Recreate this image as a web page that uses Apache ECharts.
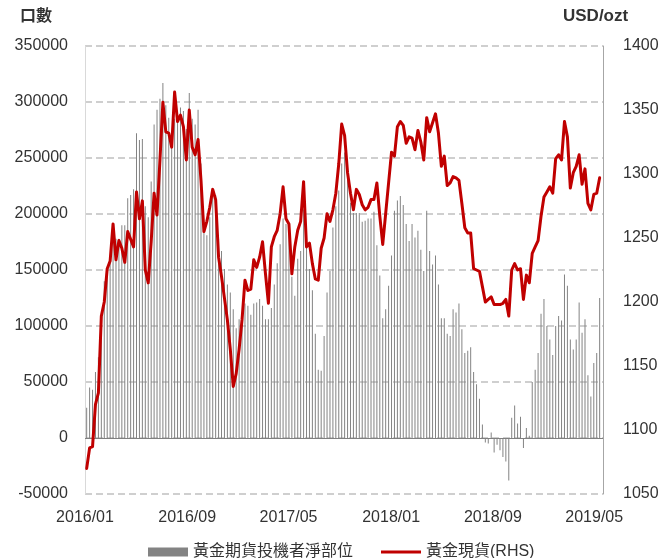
<!DOCTYPE html>
<html>
<head>
<meta charset="utf-8">
<title>黃金期貨投機者淨部位</title>
<script src="https://cdn.jsdelivr.net/npm/echarts@6/dist/echarts.min.js"></script>
<style>
  html, body { margin: 0; padding: 0; background: #fff; }
  #chart { width: 664px; height: 558px; }
</style>
</head>
<body>
<div id="chart"></div>
<script>
// 週資料 (每週二) 2016/01/05 ~ 2019/05/14，x 以 2016/01/01 起算的天數表示
const firstWeekDay = 4;

// 黃金期貨投機者淨部位 (口數)
const netPosition = [
  27000, 45000, 43000, 59000, 72000, 110000, 140000, 151000, 158000, 178000,
  178000, 178000, 190000, 190000, 214000, 217000, 222000, 272000, 266000, 267000,
  207000, 197000, 229000, 280000, 293000, 303000, 317000, 297000, 286000, 261000,
  285000, 289000, 295000, 292000, 276000,
  308000, 285000, 280000, 293000, 245000, 185000, 181000, 197000, 222000, 217000,
  178000, 167000, 151000, 137000, 130000, 115000, 98000, 106000, 110000, 120000,
  118000, 110000, 120000, 121000, 124000, 118000, 106000, 106000, 116000, 137000,
  156000, 173000, 196000, 191000, 185000, 144000,
  127000, 160000, 167000, 204000, 172000, 151000, 132000, 93000, 61000, 60000,
  91000, 130000, 149000, 188000, 207000, 221000, 245000, 255000, 231000, 210000,
  201000, 201000, 201000, 193000, 194000, 196000, 196000, 202000, 172000, 145000,
  107000, 115000, 136000, 163000,
  203000, 212000, 216000, 208000, 191000, 176000, 191000, 179000, 185000, 168000,
  149000, 203000, 167000, 155000, 163000, 137000, 107000, 107000, 93000, 91000,
  115000, 112000, 120000, 97000, 76000, 78000, 81000, 59000, 48000, 35000,
  12000, -4000, -5000, 5000, -13000,
  -6000, -11000, -17000, -21000, -38000, 18000, 29000, 13000, 19000, -9000,
  9000, 2000, 50000, 61000, 76000, 111000, 124000, 100000, 88000, 74000,
  100000, 109000, 105000, 146000, 136000, 88000, 79000, 88000, 121000, 94000,
  106000, 56000, 37000, 67000, 76000, 125000
];

// 黃金現貨 USD/ozt (RHS)
const goldSpot = [
  1070, 1086, 1087, 1120, 1129, 1189, 1200, 1226, 1232, 1261,
  1233, 1248, 1242, 1231, 1255, 1249, 1243, 1286, 1265, 1279,
  1225, 1215, 1247, 1285, 1268, 1311, 1356, 1333, 1332, 1321,
  1364, 1341, 1346, 1337, 1311,
  1350, 1321, 1315, 1327, 1295, 1255, 1263, 1274, 1288, 1280,
  1235, 1220, 1203, 1186, 1163, 1134, 1144, 1163, 1186, 1217,
  1209, 1210, 1233, 1227, 1235, 1247, 1222, 1199, 1243, 1251,
  1256, 1269, 1290, 1265, 1261, 1222,
  1243, 1256, 1263, 1294, 1243, 1246, 1230, 1218, 1217, 1242,
  1250, 1269, 1263, 1272, 1285, 1308, 1339, 1330, 1301, 1285,
  1272, 1288, 1284, 1276, 1272, 1274, 1280, 1280, 1293, 1267,
  1245, 1269, 1293, 1317,
  1314, 1337, 1341, 1338, 1324, 1329, 1328, 1319, 1334, 1325,
  1311, 1344, 1333, 1340, 1347, 1332, 1306, 1314, 1291, 1293,
  1298, 1297, 1295, 1277, 1258, 1254, 1254, 1226, 1225, 1224,
  1212, 1200, 1202, 1204, 1198,
  1198, 1198, 1199, 1202, 1189, 1225, 1230, 1225, 1226, 1202,
  1221, 1215, 1238, 1243, 1248, 1267, 1282, 1286, 1290, 1285,
  1312, 1315, 1311, 1341, 1329, 1289, 1301, 1306, 1315, 1292,
  1304, 1277, 1272, 1284, 1285, 1297
];

// x 軸刻度 (月初，距 2016/01/01 天數)
const tickLabels = ["2016/01", "2016/09", "2017/05", "2018/01", "2018/09", "2019/05"];
const tickDays = [0, 244, 486, 731, 974, 1216];

const weekDays = netPosition.map((v, i) => firstWeekDay + i * 7);

const FONT = "'Liberation Sans', 'Noto Sans CJK TC', sans-serif";
const TEXT = "#333333";
const RED = "#c00000";

let chart = echarts.init(document.getElementById("chart"));

const options = {
  backgroundColor: "#ffffff",
  animation: false,
  textStyle: { fontFamily: FONT },
  grid: { left: 85, right: 61, top: 46, bottom: 64, containLabel: false },
  legend: {
    top: 539,
    left: 143,
    itemWidth: 40,
    itemHeight: 9,
    itemGap: 28,
    textStyle: { fontSize: 16, color: TEXT, fontFamily: FONT },
    data: [
      { name: "黃金期貨投機者淨部位", icon: "rect" },
      { name: "黃金現貨(RHS)", icon: "path://M0,0L40,0L40,3L0,3Z" }
    ]
  },
  graphic: [
    {
      type: "text", left: 20, top: 9,
      style: { text: "口數", fontSize: 16, fontWeight: "bold", fill: TEXT, fontFamily: FONT }
    },
    {
      type: "text", left: 563, top: 8,
      style: { text: "USD/ozt", fontSize: 17, fontWeight: "bold", fill: TEXT, fontFamily: FONT }
    }
  ],
  xAxis: {
    type: "value",
    min: 0,
    max: 1237,
    axisLine: { show: false, onZero: false },
    axisTick: { show: false },
    splitLine: { show: false },
    axisLabel: {
      customValues: tickDays,
      showMinLabel: true,
      showMaxLabel: true,
      hideOverlap: false,
      margin: 16,
      fontSize: 16,
      color: TEXT,
      formatter: (v) => {
        const k = tickDays.indexOf(v);
        return k >= 0 ? tickLabels[k] : "";
      }
    }
  },
  yAxis: [
    {
      type: "value",
      position: "left",
      min: -50000,
      max: 350000,
      interval: 50000,
      axisLine: { show: true, onZero: false, lineStyle: { color: "#d9d9d9", width: 1 } },
      axisTick: { show: false },
      axisLabel: { fontSize: 16, color: TEXT, margin: 17, formatter: (v) => String(v) },
      splitLine: {
        show: true,
        lineStyle: { type: [7, 4], color: "#c0c0c0", width: 1.5 }
      }
    },
    {
      type: "value",
      position: "right",
      min: 1050,
      max: 1400,
      interval: 50,
      axisLine: { show: true, onZero: false, lineStyle: { color: "#a6a6a6", width: 1 } },
      axisTick: { show: false },
      axisLabel: { fontSize: 16, color: TEXT, margin: 20, formatter: (v) => String(v) },
      splitLine: { show: false }
    }
  ],
  series: [
    {
      name: "黃金期貨投機者淨部位",
      type: "bar",
      yAxisIndex: 0,
      barWidth: 1,
      itemStyle: { color: "#838383" },
      data: weekDays.map((d, i) => [d, netPosition[i]]),
      markLine: {
        silent: true,
        symbol: "none",
        label: { show: false },
        lineStyle: { type: "solid", color: "#808080", width: 1 },
        data: [{ yAxis: 0 }]
      }
    },
    {
      name: "黃金現貨(RHS)",
      type: "line",
      yAxisIndex: 1,
      showSymbol: false,
      symbol: "none",
      z: 5,
      lineStyle: { color: RED, width: 3, join: "round", cap: "round" },
      itemStyle: { color: RED },
      data: weekDays.map((d, i) => [d, goldSpot[i]])
    }
  ]
};

chart.setOption(options);
</script>
</body>
</html>
